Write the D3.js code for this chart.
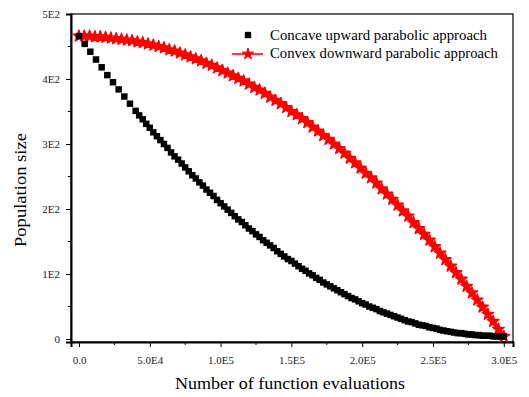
<!DOCTYPE html>
<html>
<head>
<meta charset="utf-8">
<script src="https://cdn.jsdelivr.net/npm/d3@7"></script>
<style>
  body { margin: 0; background: #fff; }
  text { font-family: "Liberation Serif", "DejaVu Serif", serif; }
</style>
</head>
<body>
<div id="chart"></div>
<script>
// Concave upward parabolic approach: function evaluations and population size
const evalsConcave = [0, 4000, 8000, 12000, 16000, 20000, 24000, 28000, 32000, 36000, 40000,
  42500, 45000, 47500, 50000, 52500, 55000, 57500, 60000, 62500, 65000,
  67500, 70000, 72500, 75000, 77500, 80000, 82500, 85000, 87500, 90000,
  92500, 95000, 97500, 100000, 102500, 105000, 107500, 110000, 112500, 115000,
  117500, 120000, 122500, 125000, 127500, 130000, 132500, 135000, 137500, 140000,
  142500, 145000, 147500, 150000, 152500, 155000, 157500, 160000, 162500, 165000,
  167500, 170000, 172500, 175000, 177500, 180000, 182500, 185000, 187500, 190000,
  192500, 195000, 197500, 200000, 202500, 205000, 207500, 210000, 212500, 215000,
  217500, 220000, 222500, 225000, 227500, 230000, 232500, 235000, 237500, 240000,
  242500, 245000, 247500, 250000, 252500, 255000, 257500, 260000, 262500, 265000,
  267500, 270000, 272500, 275000, 277500, 280000, 282500, 285000, 287500, 290000,
  292500, 295000, 297500, 300000];
const concaveUp = [466, 454, 442, 430, 418, 406, 395, 384, 373, 362, 351,
  344, 338, 331, 325, 318, 312, 306, 300, 294, 287,
  281, 276, 270, 264, 258, 252, 247, 241, 236, 230,
  225, 220, 214, 209, 204, 199, 194, 189, 184, 180,
  175, 170, 166, 161, 157, 152, 148, 144, 140, 135,
  131, 127, 123, 120, 116, 112, 108, 105, 101, 98,
  94, 91, 87, 84, 81, 78, 75, 72, 69, 66,
  63, 61, 58, 55, 53, 50, 48, 46, 43, 41,
  39, 37, 35, 33, 31, 29, 27, 26, 24, 22,
  21, 20, 18, 17, 16, 14, 13, 12, 11, 10,
  9, 9, 8, 7, 7, 6, 6, 5, 5, 5,
  4, 4, 4, 4];

// Convex downward parabolic approach
const evalsConvex = [0, 3750, 7500, 11250, 15000, 18750, 22500, 26250, 30000, 33750,
  37500, 41250, 45000, 48750, 52500, 56250, 60000, 63750, 67500, 71250,
  75000, 78750, 82500, 86250, 90000, 93750, 97500, 101250, 105000, 108750,
  112500, 116250, 120000, 123750, 127500, 131250, 135000, 138750, 142500, 146250,
  150000, 153750, 157500, 161250, 165000, 168750, 172500, 176250, 180000, 183750,
  187500, 191250, 195000, 198750, 202500, 206250, 210000, 213750, 217500, 221250,
  225000, 228750, 232500, 236250, 240000, 243750, 247500, 251250, 255000, 258750,
  262500, 266250, 270000, 273750, 277500, 281250, 285000, 288750, 292500, 296250, 300000];
const convexDown = [466, 466, 466, 465, 465, 464, 463, 462, 461, 460,
  459, 457, 456, 454, 452, 450, 448, 445, 443, 440,
  437, 434, 431, 428, 424, 421, 417, 413, 409, 405,
  401, 397, 392, 387, 383, 378, 372, 367, 362, 356,
  350, 345, 339, 333, 326, 320, 313, 307, 300, 293,
  286, 278, 271, 263, 255, 248, 240, 231, 223, 215,
  206, 197, 189, 179, 170, 161, 152, 142, 132, 122,
  112, 102, 92, 81, 71, 60, 49, 38, 27, 15, 4];

const xTicks = [0, 50000, 100000, 150000, 200000, 250000, 300000];
const xTickLabels = ["0.0", "5.0E4", "1.0E5", "1.5E5", "2.0E5", "2.5E5", "3.0E5"];
const yTicks = [0, 100, 200, 300, 400, 500];
const yTickLabels = ["0", "1E2", "2E2", "3E2", "4E2", "5E2"];
const seriesNames = ["Concave upward parabolic approach", "Convex downward parabolic approach"];

(function() {
  const W = 529, H = 397;
  const plot = { left: 71, right: 513, top: 14, bottom: 342 };

  const svg = d3.select("#chart").append("svg")
    .attr("width", W)
    .attr("height", H);

  const x = d3.scaleLinear().domain([-5650, 306500]).range([plot.left, plot.right]);
  const y = d3.scaleLinear().domain([-4.6, 500]).range([plot.bottom, plot.top]);

  // frame
  svg.append("rect")
    .attr("x", plot.left).attr("y", plot.top)
    .attr("width", plot.right - plot.left).attr("height", plot.bottom - plot.top)
    .attr("fill", "none").attr("stroke", "#000").attr("stroke-width", 1.2);

  // x axis
  const xAxis = svg.append("g")
    .attr("transform", `translate(0,${plot.bottom})`)
    .call(d3.axisBottom(x).tickValues(xTicks).tickSize(5).tickPadding(9)
      .tickFormat((d, i) => xTickLabels[i]));
  xAxis.append("g").selectAll("line")
    .data(d3.range(25000, 300000, 50000))
    .enter().append("line")
    .attr("x1", d => x(d)).attr("x2", d => x(d))
    .attr("y1", 0).attr("y2", 3)
    .attr("stroke", "#000");

  // y axis
  const yAxis = svg.append("g")
    .attr("transform", `translate(${plot.left},0)`)
    .call(d3.axisLeft(y).tickValues(yTicks).tickSize(5).tickPadding(6)
      .tickFormat((d, i) => yTickLabels[i]));
  yAxis.append("g").selectAll("line")
    .data(d3.range(50, 500, 100))
    .enter().append("line")
    .attr("y1", d => y(d)).attr("y2", d => y(d))
    .attr("x1", 0).attr("x2", -3)
    .attr("stroke", "#000");

  [xAxis, yAxis].forEach(g => {
    g.select(".domain").attr("stroke-width", 2);
    g.selectAll(".tick line").attr("stroke-width", 1);
    g.selectAll("text").attr("font-size", 11).attr("fill", "#222")
      .style("font-family", "'Liberation Serif', serif");
  });

  // axis titles
  svg.append("text")
    .attr("x", 290)
    .attr("y", 389)
    .attr("text-anchor", "middle")
    .attr("font-size", 16.5)
    .attr("textLength", 230)
    .attr("lengthAdjust", "spacingAndGlyphs")
    .text("Number of function evaluations");

  svg.append("text")
    .attr("transform", `translate(26,190) rotate(-90)`)
    .attr("text-anchor", "middle")
    .attr("font-size", 16.5)
    .attr("textLength", 114)
    .attr("lengthAdjust", "spacingAndGlyphs")
    .text("Population size");

  // red line + stars (thick line so the markers read as one band, like the original)
  const line = d3.line()
    .x((d, i) => x(evalsConvex[i]))
    .y(d => y(d));

  svg.append("path")
    .datum(convexDown)
    .attr("d", line)
    .attr("fill", "none")
    .attr("stroke", "#ff0000")
    .attr("stroke-width", 4.5);

  svg.append("g").selectAll("path")
    .data(convexDown)
    .enter().append("path")
    .attr("transform", (d, i) => `translate(${x(evalsConvex[i])},${y(d)})`)
    .attr("d", d3.symbol().type(d3.symbolStar).size(40))
    .attr("fill", "#ff0000")
    .attr("stroke", "#ff0000")
    .attr("stroke-width", 1.5)
    .attr("stroke-linejoin", "round");

  // black squares
  svg.append("g").selectAll("path")
    .data(concaveUp)
    .enter().append("path")
    .attr("transform", (d, i) => `translate(${x(evalsConcave[i])},${y(d)})`)
    .attr("d", d3.symbol().type(d3.symbolSquare).size(42))
    .attr("fill", "#000");

  // legend
  const legend = svg.append("g");
  legend.append("path")
    .attr("transform", "translate(248,35)")
    .attr("d", d3.symbol().type(d3.symbolSquare).size(40))
    .attr("fill", "#000");
  legend.append("line")
    .attr("x1", 232).attr("x2", 263)
    .attr("y1", 54).attr("y2", 54)
    .attr("stroke", "#ff0000").attr("stroke-width", 1.5);
  legend.append("path")
    .attr("transform", "translate(248,54)")
    .attr("d", d3.symbol().type(d3.symbolStar).size(40))
    .attr("fill", "#ff0000")
    .attr("stroke", "#ff0000")
    .attr("stroke-linejoin", "round");
  legend.selectAll("text")
    .data(seriesNames)
    .enter().append("text")
    .attr("x", 270)
    .attr("y", (d, i) => 40 + i * 18)
    .attr("font-size", 14)
    .attr("textLength", (d, i) => i === 0 ? 217 : 228)
    .attr("lengthAdjust", "spacingAndGlyphs")
    .text(d => d);
})();
</script>
</body>
</html>
